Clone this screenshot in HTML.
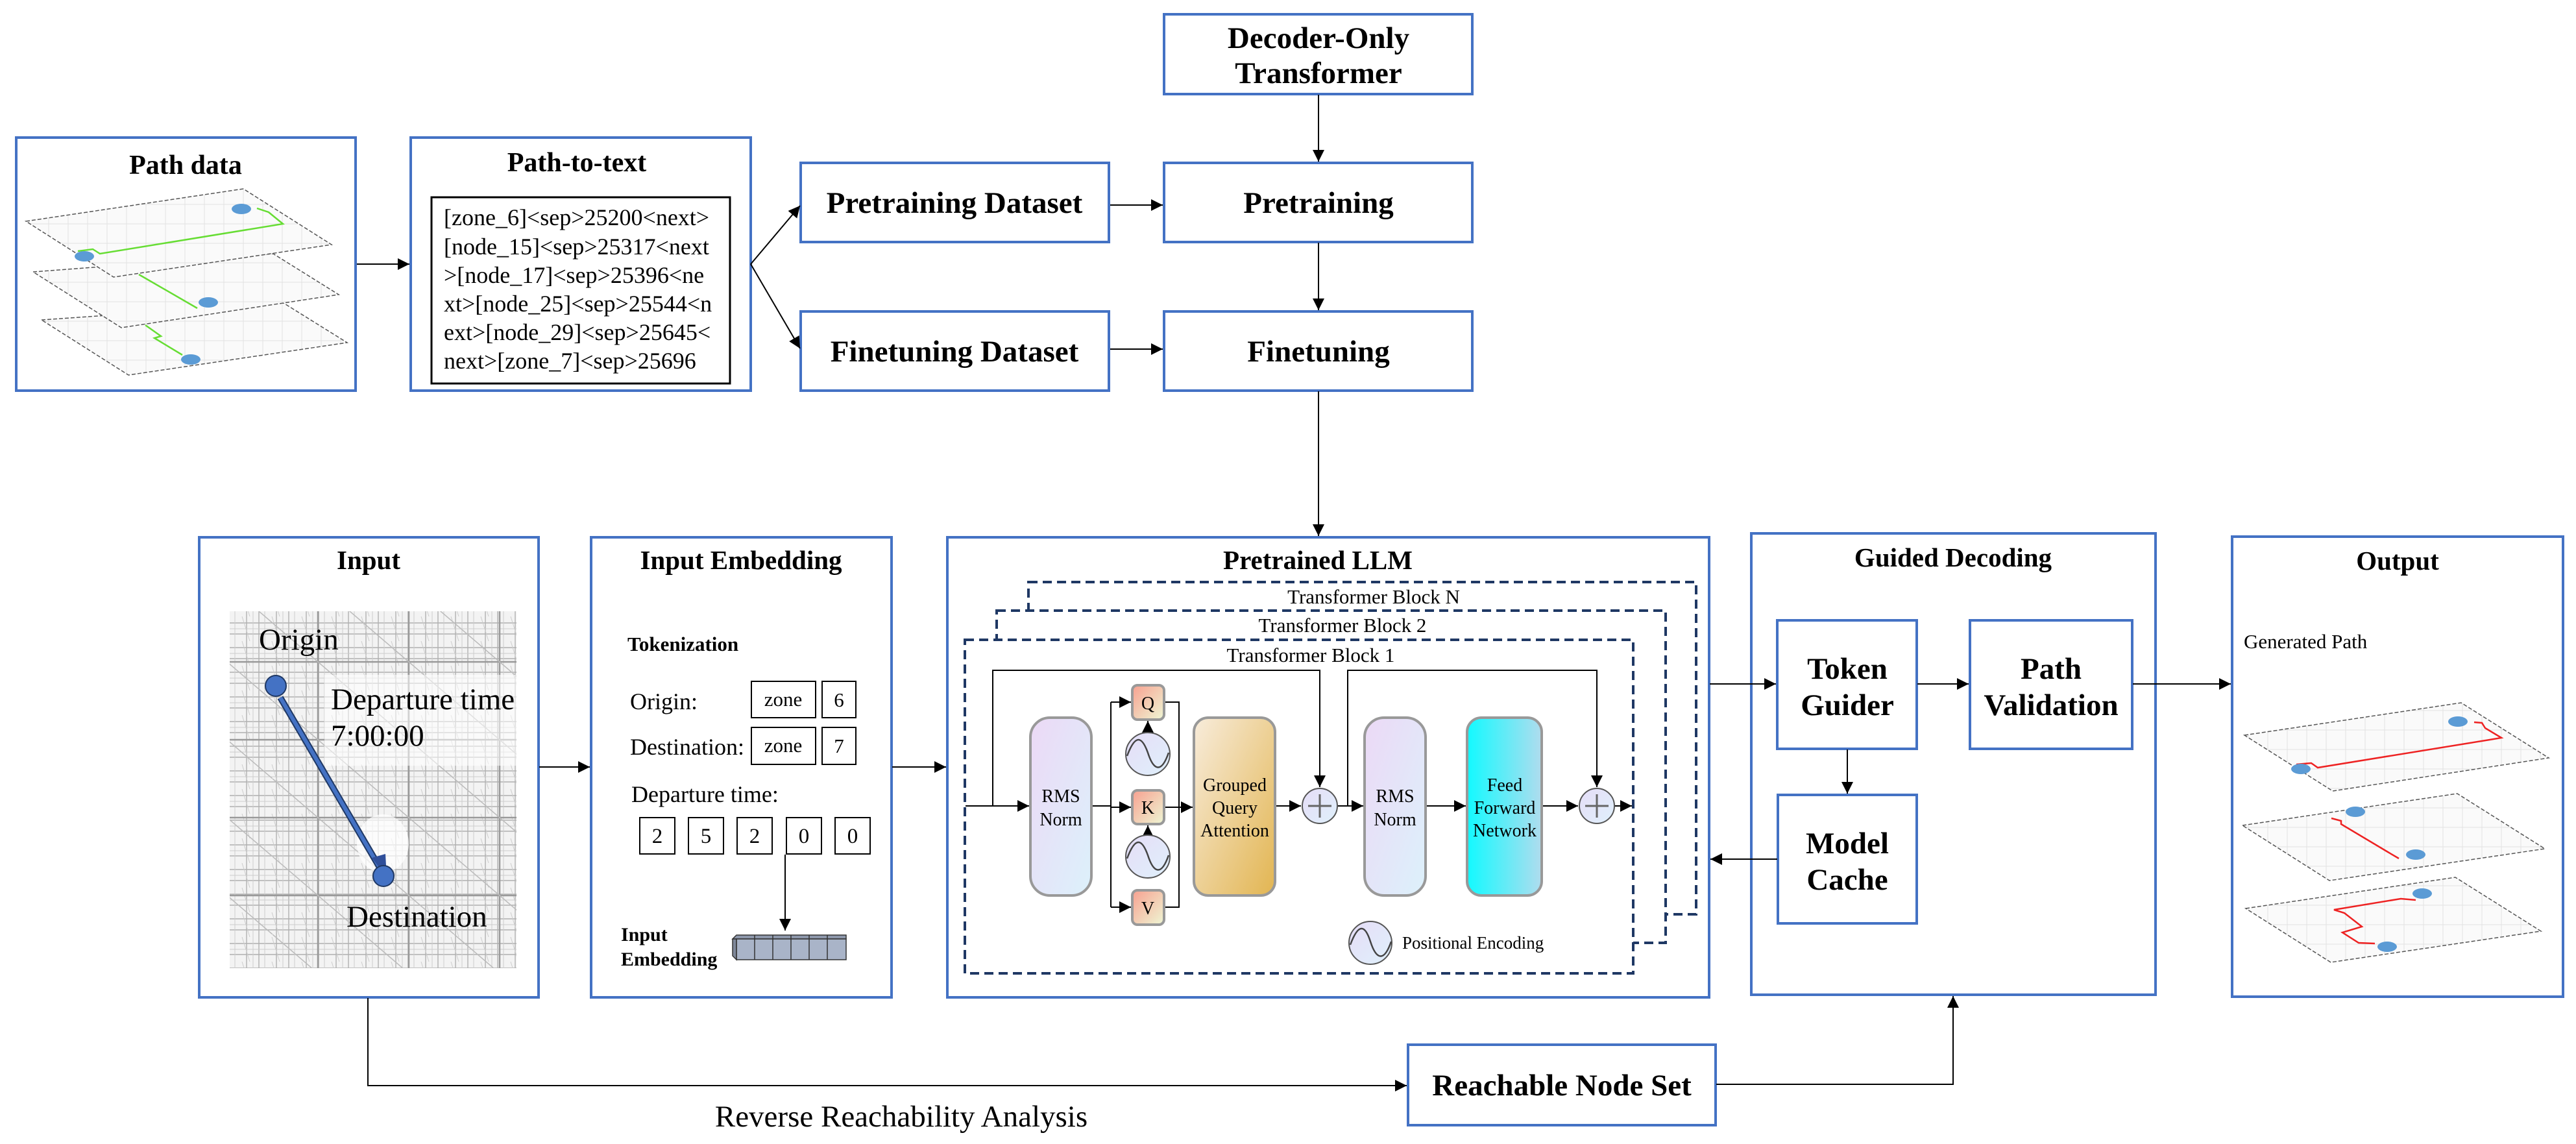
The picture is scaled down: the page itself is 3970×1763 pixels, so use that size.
<!DOCTYPE html>
<html><head><meta charset="utf-8"><style>
html,body{margin:0;padding:0;background:#fff;}
svg{display:block;}
text{font-family:"Liberation Serif",serif;fill:#000;}
.b{font-weight:bold;}
</style></head><body>
<svg width="3970" height="1763" viewBox="0 0 3970 1763" xmlns="http://www.w3.org/2000/svg">
<defs>
<marker id="ar" markerUnits="userSpaceOnUse" markerWidth="20" markerHeight="18" refX="18" refY="9" orient="auto"><path d="M0,0 L18,9 L0,18 z" fill="#000"/></marker>
<linearGradient id="gRms" x1="0" y1="0" x2="1" y2="1"><stop offset="0" stop-color="#ecd9f6"/><stop offset="1" stop-color="#dcf1fb"/></linearGradient>
<linearGradient id="gQkv" x1="0" y1="0" x2="1" y2="1"><stop offset="0" stop-color="#f8a090"/><stop offset="1" stop-color="#eef7d4"/></linearGradient>
<linearGradient id="gGqa" x1="0" y1="0" x2="1" y2="1"><stop offset="0" stop-color="#f8ecdb"/><stop offset="1" stop-color="#e2b551"/></linearGradient>
<linearGradient id="gFfn" x1="0" y1="0" x2="1" y2="0"><stop offset="0" stop-color="#12faff"/><stop offset="1" stop-color="#b0dcee"/></linearGradient>
<linearGradient id="gSin" x1="0" y1="0" x2="1" y2="1"><stop offset="0" stop-color="#e6ddf7"/><stop offset="1" stop-color="#dff0fb"/></linearGradient>
<pattern id="road" width="46" height="38" patternUnits="userSpaceOnUse">
<rect width="46" height="38" fill="#f3f3f3"/>
<path d="M0,10 H46 M0,27 H46 M12,0 V38 M31,0 V38" stroke="#b0b0b0" stroke-width="1.4"/>
<path d="M0,19 H46 M22,0 V38 M40,0 V38 M5,0 L17,38" stroke="#cdcdcd" stroke-width="1"/>
</pattern>
<pattern id="road2" width="140" height="120" patternUnits="userSpaceOnUse">
<path d="M0,60 H140 M70,0 V120" stroke="#999" stroke-width="2.5" fill="none"/>
<path d="M0,0 L140,120" stroke="#bbb" stroke-width="1.5" fill="none"/>
</pattern>
<pattern id="flat" width="30" height="30" patternUnits="userSpaceOnUse">
<rect width="30" height="30" fill="#fafafa"/>
<path d="M0,15 H30 M15,0 V30" stroke="#e2e2e2" stroke-width="1"/>
</pattern>
</defs>

<!-- ============ TOP ROW ============ -->
<rect x="25" y="212" width="523" height="390" fill="#fff" stroke="#4472C4" stroke-width="4"/>
<text x="286" y="268" font-size="42" class="b" text-anchor="middle">Path data</text>
<g stroke="#555" stroke-width="1.5" stroke-dasharray="6 3" fill="url(#flat)">
<polygon points="64,493 437,467 535,528 198,578"/>
<polygon points="51,419 421,391 522,454 187,505"/>
<polygon points="40,341 375,291 511,377 175,427"/>
</g>
<g fill="none" stroke="#66dd33" stroke-width="2.5">
<polyline points="120,387 143,384 154,391 436,345 414,327 396,321"/>
<polyline points="214,423 304,475"/>
<polyline points="224,501 248,518 238,521 281,547"/>
</g>
<g fill="#5b9bd5">
<ellipse cx="130" cy="395" rx="15" ry="8"/><ellipse cx="372" cy="322" rx="15" ry="8"/>
<ellipse cx="321" cy="466" rx="15" ry="8"/><ellipse cx="294" cy="554" rx="15" ry="8"/>
</g>

<rect x="633" y="212" width="524" height="390" fill="#fff" stroke="#4472C4" stroke-width="4"/>
<text x="889" y="264" font-size="42" class="b" text-anchor="middle">Path-to-text</text>
<rect x="665" y="304" width="460" height="287" fill="#fff" stroke="#000" stroke-width="3"/>
<g font-size="36">
<text x="684" y="347">[zone_6]&lt;sep&gt;25200&lt;next&gt;</text>
<text x="684" y="392">[node_15]&lt;sep&gt;25317&lt;next</text>
<text x="684" y="436">&gt;[node_17]&lt;sep&gt;25396&lt;ne</text>
<text x="684" y="480">xt&gt;[node_25]&lt;sep&gt;25544&lt;n</text>
<text x="684" y="524">ext&gt;[node_29]&lt;sep&gt;25645&lt;</text>
<text x="684" y="568">next&gt;[zone_7]&lt;sep&gt;25696</text>
</g>

<rect x="1234" y="251" width="475" height="122" fill="#fff" stroke="#4472C4" stroke-width="4"/>
<text x="1471" y="328" font-size="47" class="b" text-anchor="middle">Pretraining Dataset</text>
<rect x="1234" y="480" width="475" height="122" fill="#fff" stroke="#4472C4" stroke-width="4"/>
<text x="1471" y="557" font-size="47" class="b" text-anchor="middle">Finetuning Dataset</text>

<rect x="1794" y="22" width="475" height="123" fill="#fff" stroke="#4472C4" stroke-width="4"/>
<text x="2032" y="74" font-size="47" class="b" text-anchor="middle">Decoder-Only</text>
<text x="2032" y="128" font-size="47" class="b" text-anchor="middle">Transformer</text>
<rect x="1794" y="251" width="475" height="122" fill="#fff" stroke="#4472C4" stroke-width="4"/>
<text x="2032" y="328" font-size="47" class="b" text-anchor="middle">Pretraining</text>
<rect x="1794" y="480" width="475" height="122" fill="#fff" stroke="#4472C4" stroke-width="4"/>
<text x="2032" y="557" font-size="47" class="b" text-anchor="middle">Finetuning</text>

<g stroke="#000" stroke-width="2" fill="none" marker-end="url(#ar)">
<line x1="550" y1="407" x2="631" y2="407"/>
<line x1="1157" y1="407" x2="1233" y2="317"/>
<line x1="1157" y1="407" x2="1233" y2="537"/>
<line x1="1711" y1="316" x2="1792" y2="316"/>
<line x1="1711" y1="538" x2="1792" y2="538"/>
<line x1="2032" y1="146" x2="2032" y2="249"/>
<line x1="2032" y1="374" x2="2032" y2="478"/>
<line x1="2032" y1="603" x2="2032" y2="826"/>
</g>

<!-- ============ BOTTOM ROW ============ -->
<rect x="307" y="828" width="523" height="709" fill="#fff" stroke="#4472C4" stroke-width="4"/>
<text x="568" y="877" font-size="41" class="b" text-anchor="middle">Input</text>
<rect x="354" y="942" width="442" height="550" fill="url(#road)"/>
<rect x="354" y="942" width="442" height="550" fill="url(#road2)"/>
<rect x="500" y="1040" width="296" height="140" fill="#fff" opacity="0.55"/>
<ellipse cx="590" cy="1300" rx="40" ry="45" fill="#fff" opacity="0.7"/>
<line x1="432" y1="1075" x2="584" y2="1335" stroke="#1f3864" stroke-width="10"/>
<line x1="432" y1="1075" x2="584" y2="1335" stroke="#4472C4" stroke-width="6"/>
<polygon points="573,1322 596,1352 594,1316" fill="#2f4f9a"/>
<circle cx="425" cy="1057" r="16" fill="#4472C4" stroke="#1f3864" stroke-width="2"/>
<circle cx="591" cy="1350" r="16" fill="#4472C4" stroke="#1f3864" stroke-width="2"/>
<text x="399" y="1001" font-size="47">Origin</text>
<text x="510" y="1093" font-size="47">Departure time</text>
<text x="510" y="1149" font-size="47">7:00:00</text>
<text x="534" y="1428" font-size="47">Destination</text>

<rect x="911" y="828" width="463" height="709" fill="#fff" stroke="#4472C4" stroke-width="4"/>
<text x="1142" y="877" font-size="41" class="b" text-anchor="middle">Input Embedding</text>
<text x="967" y="1003" font-size="31" class="b">Tokenization</text>
<text x="971" y="1093" font-size="36">Origin:</text>
<text x="971" y="1163" font-size="36">Destination:</text>
<text x="973" y="1236" font-size="36">Departure time:</text>
<g fill="#fff" stroke="#000" stroke-width="2">
<rect x="1158" y="1050" width="99" height="56"/><rect x="1267" y="1050" width="52" height="56"/>
<rect x="1158" y="1121" width="99" height="57"/><rect x="1267" y="1121" width="52" height="57"/>
<rect x="986" y="1260" width="54" height="56"/><rect x="1061" y="1260" width="54" height="56"/>
<rect x="1136" y="1260" width="54" height="56"/><rect x="1212" y="1260" width="54" height="56"/>
<rect x="1287" y="1260" width="54" height="56"/>
</g>
<g font-size="31" text-anchor="middle">
<text x="1207" y="1088">zone</text><text x="1293" y="1089">6</text>
<text x="1207" y="1159">zone</text><text x="1293" y="1160">7</text>
</g>
<g font-size="33" text-anchor="middle">
<text x="1013" y="1299">2</text><text x="1088" y="1299">5</text><text x="1163" y="1299">2</text><text x="1239" y="1299">0</text><text x="1314" y="1299">0</text>
</g>
<line x1="1210" y1="1317" x2="1210" y2="1434" stroke="#000" stroke-width="2" marker-end="url(#ar)"/>
<text x="957" y="1450" font-size="30" class="b">Input</text>
<text x="957" y="1488" font-size="30" class="b">Embedding</text>
<polygon points="1129,1447 1135,1441 1304,1441 1304,1447" fill="#8d97ab" stroke="#333" stroke-width="1.5"/>
<rect x="1135" y="1447" width="169" height="32" fill="#a9b4c8" stroke="#333" stroke-width="1.5"/>
<polygon points="1129,1447 1135,1447 1135,1479 1129,1473" fill="#7f889a" stroke="#333" stroke-width="1.5"/>
<g stroke="#333" stroke-width="1.5"><line x1="1163" y1="1441" x2="1163" y2="1479"/><line x1="1191" y1="1441" x2="1191" y2="1479"/><line x1="1219" y1="1441" x2="1219" y2="1479"/><line x1="1247" y1="1441" x2="1247" y2="1479"/><line x1="1275" y1="1441" x2="1275" y2="1479"/></g>

<rect x="1460" y="828" width="1174" height="709" fill="#fff" stroke="#4472C4" stroke-width="4"/>
<text x="2031" y="877" font-size="41" class="b" text-anchor="middle">Pretrained LLM</text>
<g stroke="#1f3864" stroke-width="4" stroke-dasharray="14 8" fill="#fff">
<rect x="1585" y="897" width="1029" height="512"/>
<rect x="1536" y="941" width="1031" height="512"/>
<rect x="1487" y="986" width="1030" height="514"/>
</g>
<g font-size="31" text-anchor="middle">
<text x="2117" y="930">Transformer Block N</text>
<text x="2069" y="974">Transformer Block 2</text>
<text x="2020" y="1020">Transformer Block 1</text>
</g>
<g stroke="#000" stroke-width="2" fill="none">
<polyline points="1530,1242 1530,1033 2034,1033 2034,1213" marker-end="url(#ar)"/>
<polyline points="2077,1242 2077,1033 2461,1033 2461,1213" marker-end="url(#ar)"/>
<line x1="1488" y1="1242" x2="1586" y2="1242" marker-end="url(#ar)"/>
<polyline points="1682,1242 1712,1242"/>
<line x1="1712" y1="1082" x2="1712" y2="1398"/>
<line x1="1712" y1="1082" x2="1743" y2="1082" marker-end="url(#ar)"/>
<line x1="1712" y1="1244" x2="1743" y2="1244" marker-end="url(#ar)"/>
<line x1="1712" y1="1398" x2="1743" y2="1398" marker-end="url(#ar)"/>
<polyline points="1794,1082 1817,1082 1817,1398 1794,1398"/>
<line x1="1794" y1="1244" x2="1838" y2="1244" marker-end="url(#ar)"/>
<line x1="1965" y1="1242" x2="2005" y2="1242" marker-end="url(#ar)"/>
<line x1="2062" y1="1242" x2="2101" y2="1242" marker-end="url(#ar)"/>
<line x1="2197" y1="1242" x2="2259" y2="1242" marker-end="url(#ar)"/>
<line x1="2376" y1="1242" x2="2432" y2="1242" marker-end="url(#ar)"/>
<line x1="2487" y1="1242" x2="2515" y2="1242" marker-end="url(#ar)"/>
<line x1="1769" y1="1129" x2="1769" y2="1111" marker-end="url(#ar)"/>
<line x1="1769" y1="1287" x2="1769" y2="1272" marker-end="url(#ar)"/>
</g>
<g stroke="#999" stroke-width="4">
<rect x="1588" y="1106" width="94" height="274" rx="30" fill="url(#gRms)"/>
<rect x="1840" y="1106" width="125" height="274" rx="22" fill="url(#gGqa)"/>
<rect x="2103" y="1106" width="94" height="274" rx="30" fill="url(#gRms)"/>
<rect x="2261" y="1106" width="115" height="274" rx="22" fill="url(#gFfn)"/>
<rect x="1745" y="1056" width="49" height="53" rx="8" fill="url(#gQkv)"/>
<rect x="1745" y="1218" width="49" height="52" rx="8" fill="url(#gQkv)"/>
<rect x="1745" y="1372" width="49" height="53" rx="8" fill="url(#gQkv)"/>
</g>
<g stroke="#555" stroke-width="2" fill="url(#gSin)">
<ellipse cx="1769" cy="1162" rx="34" ry="33"/>
<ellipse cx="1769" cy="1320" rx="34" ry="33"/>
<ellipse cx="2112" cy="1453" rx="33" ry="33"/>
<circle cx="2034" cy="1242" r="27"/>
<circle cx="2461" cy="1242" r="27"/>
</g>
<g stroke="#444" stroke-width="2.5" fill="none">
<path d="M1737,1165 C1750,1130 1760,1135 1769,1160 C1778,1188 1790,1192 1801,1160"/>
<path d="M1737,1323 C1750,1288 1760,1293 1769,1318 C1778,1346 1790,1350 1801,1318"/>
<path d="M2081,1456 C2094,1421 2104,1426 2112,1451 C2121,1479 2133,1483 2144,1451"/>
</g>
<g stroke="#666" stroke-width="3">
<line x1="2034" y1="1224" x2="2034" y2="1260"/><line x1="2016" y1="1242" x2="2052" y2="1242"/>
<line x1="2461" y1="1224" x2="2461" y2="1260"/><line x1="2443" y1="1242" x2="2479" y2="1242"/>
</g>
<g font-size="28" text-anchor="middle">
<text x="1635" y="1236">RMS</text><text x="1635" y="1272">Norm</text>
<text x="2150" y="1236">RMS</text><text x="2150" y="1272">Norm</text>
<text x="1903" y="1219">Grouped</text><text x="1903" y="1254">Query</text><text x="1903" y="1289">Attention</text>
<text x="2319" y="1219">Feed</text><text x="2319" y="1254">Forward</text><text x="2319" y="1289">Network</text>
<text x="1769" y="1093">Q</text><text x="1769" y="1254">K</text><text x="1769" y="1409">V</text>
</g>
<text x="2161" y="1462" font-size="27">Positional Encoding</text>

<rect x="2699" y="822" width="623" height="711" fill="#fff" stroke="#4472C4" stroke-width="4"/>
<text x="3010" y="873" font-size="41" class="b" text-anchor="middle">Guided Decoding</text>
<rect x="2739" y="956" width="215" height="198" fill="#fff" stroke="#4472C4" stroke-width="4"/>
<text x="2847" y="1046" font-size="47" class="b" text-anchor="middle">Token</text>
<text x="2847" y="1102" font-size="47" class="b" text-anchor="middle">Guider</text>
<rect x="3036" y="956" width="250" height="198" fill="#fff" stroke="#4472C4" stroke-width="4"/>
<text x="3161" y="1046" font-size="47" class="b" text-anchor="middle">Path</text>
<text x="3161" y="1102" font-size="47" class="b" text-anchor="middle">Validation</text>
<rect x="2740" y="1225" width="214" height="198" fill="#fff" stroke="#4472C4" stroke-width="4"/>
<text x="2847" y="1315" font-size="47" class="b" text-anchor="middle">Model</text>
<text x="2847" y="1371" font-size="47" class="b" text-anchor="middle">Cache</text>

<rect x="3440" y="827" width="510" height="709" fill="#fff" stroke="#4472C4" stroke-width="4"/>
<text x="3695" y="878" font-size="41" class="b" text-anchor="middle">Output</text>
<text x="3458" y="999" font-size="31">Generated Path</text>
<g stroke="#555" stroke-width="1.5" stroke-dasharray="6 3" fill="url(#flat)">
<polygon points="3459,1133 3793,1083 3928,1168 3595,1219"/>
<polygon points="3456,1272 3787,1223 3922,1308 3590,1357"/>
<polygon points="3461,1400 3784,1352 3916,1435 3592,1483"/>
</g>
<g fill="none" stroke="#ee2222" stroke-width="2.5">
<polyline points="3539,1178 3562,1176 3572,1183 3837,1140 3855,1137 3830,1122 3825,1114 3813,1113"/>
<polyline points="3593,1261 3608,1265 3608,1270 3680,1313 3697,1323"/>
<polyline points="3723,1387 3700,1385 3597,1402 3613,1407 3640,1428 3610,1437 3635,1453 3660,1454"/>
</g>
<g fill="#5b9bd5">
<ellipse cx="3546" cy="1185" rx="15" ry="8"/><ellipse cx="3788" cy="1112" rx="15" ry="8"/>
<ellipse cx="3630" cy="1251" rx="15" ry="8"/><ellipse cx="3723" cy="1317" rx="15" ry="8"/>
<ellipse cx="3733" cy="1377" rx="15" ry="8"/><ellipse cx="3679" cy="1459" rx="15" ry="8"/>
</g>

<rect x="2170" y="1610" width="474" height="124" fill="#fff" stroke="#4472C4" stroke-width="4"/>
<text x="2407" y="1688" font-size="47" class="b" text-anchor="middle">Reachable Node Set</text>
<text x="1389" y="1736" font-size="47" text-anchor="middle">Reverse Reachability Analysis</text>

<g stroke="#000" stroke-width="2" fill="none">
<line x1="831" y1="1182" x2="909" y2="1182" marker-end="url(#ar)"/>
<line x1="1375" y1="1182" x2="1458" y2="1182" marker-end="url(#ar)"/>
<line x1="2635" y1="1054" x2="2737" y2="1054" marker-end="url(#ar)"/>
<line x1="2955" y1="1054" x2="3034" y2="1054" marker-end="url(#ar)"/>
<line x1="3287" y1="1054" x2="3438" y2="1054" marker-end="url(#ar)"/>
<line x1="2847" y1="1155" x2="2847" y2="1223" marker-end="url(#ar)"/>
<line x1="2739" y1="1324" x2="2636" y2="1324" marker-end="url(#ar)"/>
<polyline points="567,1538 567,1673 2168,1673" marker-end="url(#ar)"/>
<polyline points="2645,1671 3010,1671 3010,1535" marker-end="url(#ar)"/>
</g>
</svg>
</body></html>
